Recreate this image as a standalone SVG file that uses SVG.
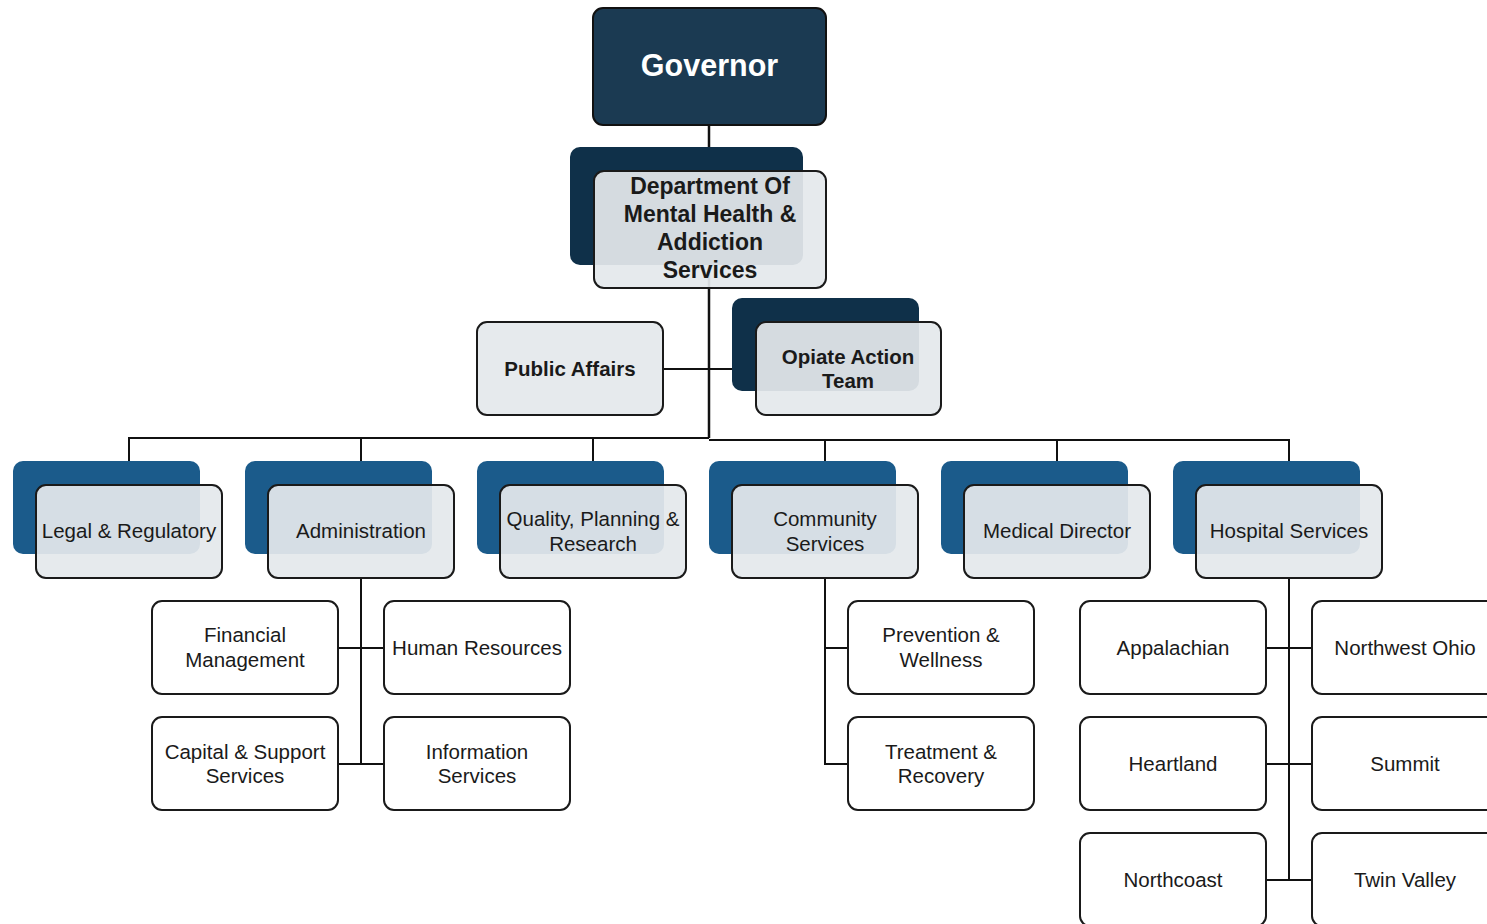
<svg xmlns="http://www.w3.org/2000/svg" width="1487" height="924" viewBox="0 0 1487 924">
<style>
.bk{fill:#1b5b8b}
.bkd{fill:#0f3049}
.fr{fill:#e4e8ec;fill-opacity:0.93;stroke:#1a1a1a;stroke-width:2}
.wh{fill:#ffffff;stroke:#1a1a1a;stroke-width:2}
.t{font-family:"Liberation Sans",Arial,sans-serif;font-size:20.5px;fill:#1a1a1a;text-anchor:middle}
.b{font-weight:bold}
.d{font-size:23px}
.c{fill:none;stroke:#111;stroke-width:2}
</style>
<rect width="1487" height="924" fill="#ffffff"/>
<g id="connectors">
<path class="c" d="M129 485V438H709M709 440H1289V485M361 438V485M593 438V485M825 440V485M1057 440V485M663 369H756"/>
<path class="c" style="stroke-width:2.5" d="M709 125V438"/>
<path class="c" d="M361 578V764M338 648H384M338 764H384"/>
<path class="c" d="M825 578V764H848M825 648H848"/>
<path class="c" d="M1289 578V880M1266 648H1312M1266 764H1312M1266 880H1312"/>
</g>
<g id="governor">
<rect x="593" y="8" width="233" height="117" rx="10" fill="#1b3a52" stroke="#111" stroke-width="2"/>
<text class="t b" x="709.5" y="76" style="font-size:30.5px;fill:#fff">Governor</text>
</g>
<g id="dept">
<rect class="bkd" x="570" y="147" width="233" height="118" rx="10"/>
<rect class="fr" x="594" y="171" width="232" height="117" rx="10"/>
<text class="t b d" x="710" y="194">Department Of</text>
<text class="t b d" x="710" y="222">Mental Health &amp;</text>
<text class="t b d" x="710" y="250">Addiction</text>
<text class="t b d" x="710" y="278">Services</text>
</g>
<g id="public-affairs">
<rect class="fr" x="477" y="322" width="186" height="93" rx="10"/>
<text class="t b" x="570" y="376">Public Affairs</text>
</g>
<g id="opiate">
<rect class="bkd" x="732" y="298" width="187" height="93" rx="10"/>
<rect class="fr" x="756" y="322" width="185" height="93" rx="10"/>
<text class="t b" x="848" y="364">Opiate Action</text>
<text class="t b" x="848" y="388">Team</text>
</g>
<g id="legal">
<rect class="bk" x="13" y="461" width="187" height="93" rx="10"/>
<rect class="fr" x="36" y="485" width="186" height="93" rx="10"/>
<text class="t" x="129" y="538">Legal &amp; Regulatory</text>
</g>
<g id="administration">
<rect class="bk" x="245" y="461" width="187" height="93" rx="10"/>
<rect class="fr" x="268" y="485" width="186" height="93" rx="10"/>
<text class="t" x="361" y="538">Administration</text>
</g>
<g id="quality">
<rect class="bk" x="477" y="461" width="187" height="93" rx="10"/>
<rect class="fr" x="500" y="485" width="186" height="93" rx="10"/>
<text class="t" x="593" y="526">Quality, Planning &amp;</text>
<text class="t" x="593" y="551">Research</text>
</g>
<g id="community">
<rect class="bk" x="709" y="461" width="187" height="93" rx="10"/>
<rect class="fr" x="732" y="485" width="186" height="93" rx="10"/>
<text class="t" x="825" y="526">Community</text>
<text class="t" x="825" y="551">Services</text>
</g>
<g id="medical">
<rect class="bk" x="941" y="461" width="187" height="93" rx="10"/>
<rect class="fr" x="964" y="485" width="186" height="93" rx="10"/>
<text class="t" x="1057" y="538">Medical Director</text>
</g>
<g id="hospital">
<rect class="bk" x="1173" y="461" width="187" height="93" rx="10"/>
<rect class="fr" x="1196" y="485" width="186" height="93" rx="10"/>
<text class="t" x="1289" y="538">Hospital Services</text>
</g>
<g id="financial">
<rect class="wh" x="152" y="601" width="186" height="93" rx="10"/>
<text class="t" x="245" y="642">Financial</text>
<text class="t" x="245" y="667">Management</text>
</g>
<g id="hr">
<rect class="wh" x="384" y="601" width="186" height="93" rx="10"/>
<text class="t" x="477" y="655">Human Resources</text>
</g>
<g id="capital">
<rect class="wh" x="152" y="717" width="186" height="93" rx="10"/>
<text class="t" x="245" y="759">Capital &amp; Support</text>
<text class="t" x="245" y="783">Services</text>
</g>
<g id="information">
<rect class="wh" x="384" y="717" width="186" height="93" rx="10"/>
<text class="t" x="477" y="759">Information</text>
<text class="t" x="477" y="783">Services</text>
</g>
<g id="prevention">
<rect class="wh" x="848" y="601" width="186" height="93" rx="10"/>
<text class="t" x="941" y="642">Prevention &amp;</text>
<text class="t" x="941" y="667">Wellness</text>
</g>
<g id="treatment">
<rect class="wh" x="848" y="717" width="186" height="93" rx="10"/>
<text class="t" x="941" y="759">Treatment &amp;</text>
<text class="t" x="941" y="783">Recovery</text>
</g>
<g id="appalachian">
<rect class="wh" x="1080" y="601" width="186" height="93" rx="10"/>
<text class="t" x="1173" y="655">Appalachian</text>
</g>
<g id="northwest">
<rect class="wh" x="1312" y="601" width="186" height="93" rx="10"/>
<text class="t" x="1405" y="655">Northwest Ohio</text>
</g>
<g id="heartland">
<rect class="wh" x="1080" y="717" width="186" height="93" rx="10"/>
<text class="t" x="1173" y="771">Heartland</text>
</g>
<g id="summit">
<rect class="wh" x="1312" y="717" width="186" height="93" rx="10"/>
<text class="t" x="1405" y="771">Summit</text>
</g>
<g id="northcoast">
<rect class="wh" x="1080" y="833" width="186" height="93" rx="10"/>
<text class="t" x="1173" y="887">Northcoast</text>
</g>
<g id="twinvalley">
<rect class="wh" x="1312" y="833" width="186" height="93" rx="10"/>
<text class="t" x="1405" y="887">Twin Valley</text>
</g>
</svg>
